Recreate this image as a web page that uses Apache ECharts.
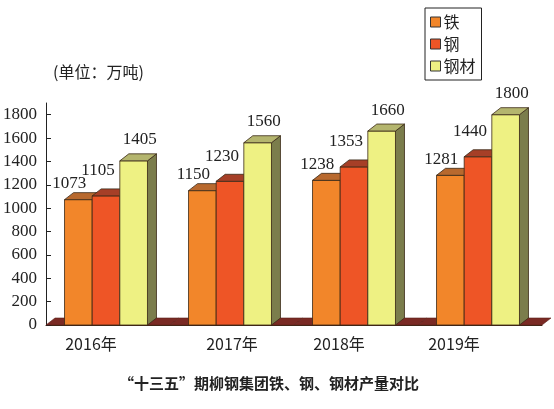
<!DOCTYPE html>
<html lang="zh-CN">
<head>
<meta charset="utf-8">
<title>柳钢集团产量对比</title>
<style>
    html, body { margin: 0; background: #fff; }
    #main { width: 554px; height: 409px; }
</style>
</head>
<body>
<div id="main"></div>
<script src="https://cdn.jsdelivr.net/npm/echarts@6/dist/echarts.min.js"></script>
<script>
// 数据
var years = ['2016年', '2017年', '2018年', '2019年'];
var seriesNames = ['铁', '钢', '钢材'];
var ironVals = [1073, 1150, 1238, 1281];
var steelVals = [1105, 1230, 1353, 1440];
var productVals = [1405, 1560, 1660, 1800];

// 样式
var DX = 9, DY = 7;
var palette = [
    { front: '#f2862a', top: '#b8692e', side: '#9a5220' },
    { front: '#ee5526', top: '#a63f27', side: '#8a3020' },
    { front: '#eef183', top: '#b4b56e', side: '#7b7d4c' }
];
var labelShift = [[-9, 9], [-8, 18], [6, 14]];
var yearShift = [-17, 0, -17, -26];
var edge = { stroke: '#3a2816', lineWidth: 0.8 };

function withEdge(fill) {
    return { fill: fill, stroke: edge.stroke, lineWidth: edge.lineWidth };
}

function makeBar(k) {
    return function (params, api) {
        var base = api.coord([api.value(0), 0]);
        var top = api.coord([api.value(0), api.value(1)]);
        var band = api.size([1, 0])[0];
        var w = band * 0.223;
        var x0 = base[0] - 2 + (k - 1.5) * w;
        var x1 = x0 + w, ty = top[1], by = base[1];
        var c = palette[k];
        return {
            type: 'group',
            children: [
                {
                    type: 'polygon',
                    shape: { points: [[x1, ty], [x1 + DX, ty - DY], [x1 + DX, by - DY], [x1, by]] },
                    style: withEdge(c.side)
                },
                {
                    type: 'rect',
                    shape: { x: x0, y: ty, width: w, height: by - ty },
                    style: withEdge(c.front)
                },
                {
                    type: 'polygon',
                    shape: { points: [[x0, ty], [x1, ty], [x1 + DX, ty - DY], [x0 + DX, ty - DY]] },
                    style: withEdge(c.top)
                },
                {
                    type: 'text',
                    z2: 100,
                    x: (x0 + x1) / 2 + labelShift[k][0],
                    y: ty - DY - labelShift[k][1],
                    style: {
                        text: String(api.value(1)),
                        fill: '#222',
                        fontSize: 17,
                        fontFamily: 'Liberation Serif',
                        align: 'center',
                        verticalAlign: 'middle'
                    }
                }
            ]
        };
    };
}

function renderFloor(params, api) {
    var base = api.coord([api.value(0), 0]);
    var band = api.size([1, 0])[0];
    var xl = base[0] - band / 2, xr = base[0] + band / 2, by = base[1];
    return {
        type: 'polygon',
        shape: { points: [[xl, by], [xr, by], [xr + DX, by - DY], [xl + DX, by - DY]] },
        style: { fill: '#7a2a24', stroke: '#5a1e18', lineWidth: 0.6 }
    };
}

function pairs(vals) {
    return vals.map(function (v, i) { return [i, v]; });
}

var allVals = [ironVals, steelVals, productVals];

var series = [{
    name: '_floor',
    type: 'custom',
    silent: true,
    z: 1,
    renderItem: renderFloor,
    data: years.map(function (y, i) { return [i, 0]; })
}];
seriesNames.forEach(function (name, k) {
    series.push({
        name: name,
        type: 'custom',
        z: 2,
        itemStyle: { color: palette[k].front },
        renderItem: makeBar(k),
        data: pairs(allVals[k])
    });
});

var chart = echarts.init(document.getElementById('main'));
chart.setOption({
    animation: false,
    backgroundColor: '#fff',
    title: {
        text: '“十三五”期柳钢集团铁、钢、钢材产量对比',
        left: 114,
        top: 371,
        textStyle: {
            fontSize: 15,
            fontWeight: 'bold',
            color: '#222',
            fontFamily: 'Noto Sans CJK SC'
        }
    },
    legend: {
        data: seriesNames,
        orient: 'vertical',
        left: 425,
        top: 8,
        icon: 'rect',
        itemWidth: 10,
        itemHeight: 10,
        itemGap: 6,
        padding: [6, 6, 6, 5],
        borderColor: '#222',
        borderWidth: 1,
        backgroundColor: '#fff',
        itemStyle: { borderColor: '#333', borderWidth: 1 },
        textStyle: { fontSize: 16, color: '#222', fontFamily: 'Noto Sans CJK SC', padding: [0, 0, 0, -2] }
    },
    grid: { left: 46, right: 12, top: 103, bottom: 84 },
    xAxis: {
        type: 'category',
        data: years.map(function (y, i) {
            var s = yearShift[i];
            return {
                value: y,
                textStyle: { padding: s < 0 ? [0, -2 * s, 0, 0] : [0, 0, 0, 2 * s] }
            };
        }),
        axisLine: { show: true, lineStyle: { color: '#3a2816', width: 1 } },
        axisTick: { show: false },
        axisLabel: {
            fontSize: 16,
            color: '#222',
            margin: 11,
            fontFamily: 'Noto Sans CJK SC'
        }
    },
    yAxis: {
        type: 'value',
        min: 0,
        max: 1900,
        interval: 200,
        name: '(单位：万吨)',
        nameLocation: 'end',
        nameGap: 23,
        nameTextStyle: {
            fontSize: 16,
            color: '#222',
            align: 'left',
            padding: [0, 0, 0, 7],
            fontFamily: 'Noto Sans CJK SC'
        },
        splitLine: { show: false },
        axisLine: { show: true, lineStyle: { color: '#222', width: 1 } },
        axisTick: { show: true, inside: true, length: 5, lineStyle: { color: '#222' } },
        axisLabel: {
            showMaxLabel: false,
            fontSize: 17,
            color: '#222',
            margin: 9,
            fontFamily: 'Liberation Serif',
            formatter: function (v) { return String(v); }
        }
    },
    series: series
});
</script>
</body>
</html>
